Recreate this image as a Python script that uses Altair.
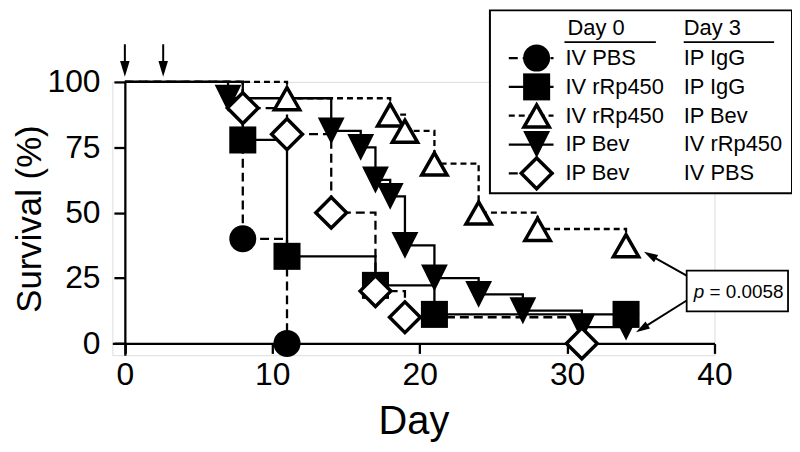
import math
import altair as alt
import pandas as pd

# ---------------- data ----------------
series_names = ["IV PBS / IP IgG", "IV rRp450 / IP IgG", "IV rRp450 / IP Bev",
                "IP Bev / IV rRp450", "IP Bev / IV PBS"]
day0_labels = ["IV PBS", "IV rRp450", "IV rRp450", "IP Bev", "IP Bev"]
day3_labels = ["IP IgG", "IP IgG", "IP Bev", "IV rRp450", "IV PBS"]
header_labels = ["Day 0", "Day 3"]

circle_days = [0, 8, 11]
circle_surv = [100, 40, 0]
square_days = [0, 8, 11, 17, 21, 34]
square_surv = [100, 77.8, 33.3, 22.2, 11.1, 11.1]
tri_up_days = [0, 11, 18, 19, 21, 24, 28, 34]
tri_up_surv = [100, 93.75, 87.5, 81.25, 68.75, 50, 43.75, 37.5]
tri_down_days = [0, 7, 14, 16, 17, 18, 19, 21, 24, 27, 31, 34]
tri_down_surv = [100, 93.75, 81.25, 75, 62.5, 56.25, 37.5, 25, 18.75, 12.5, 6.25, 6.25]
diamond_days = [0, 8, 11, 14, 17, 19, 31]
diamond_surv = [100, 90, 80, 50, 20, 10, 0]

x_ticks = [0, 10, 20, 30, 40]
y_ticks = [0, 25, 50, 75, 100]
dosing_days = [0, 2.6]
p_label = "p"
p_value_text = "= 0.0058"

all_days = [circle_days, square_days, tri_up_days, tri_down_days, diamond_days]
all_surv = [circle_surv, square_surv, tri_up_surv, tri_down_surv, diamond_surv]

# ---------------- styles ----------------
FONT = "Liberation Sans"
TRI_UP = "M0,-0.85 L1,0.9 L-1,0.9 Z"
TRI_DOWN = "M-1,-1 L1,-1 L0,1 Z"
styles = [
    dict(shape="circle", fill="black", sw=0, size=740, dash=[9, 5]),
    dict(shape="square", fill="black", sw=0, size=740, dash=None),
    dict(shape=TRI_UP, fill="white", sw=3.5, size=650, dash=[6, 4]),
    dict(shape=TRI_DOWN, fill="black", sw=0, size=729, dash=None),
    dict(shape="diamond", fill="white", sw=3.5, size=960, dash=[9, 5]),
]

W, H = 606, 275
xs = alt.Scale(domain=[-0.85, 40], nice=False, zero=False)
ys = alt.Scale(domain=[-4.5, 100], nice=False, zero=False)

x_axis = alt.Axis(values=x_ticks, title="Day", offset=-11.8, tickSize=10, tickWidth=2.3,
                  domainWidth=2.3, domainColor="black", tickColor="black",
                  labelFontSize=32, labelColor="black", labelFont=FONT, labelPadding=6,
                  titleFont=FONT, titleFontSize=40, titleColor="black",
                  titleFontWeight="normal", titlePadding=12, grid=False, format="d",
                  labelFlush=False)
y_axis = alt.Axis(values=y_ticks, title="Survival (%)", offset=-12.6, tickSize=11, tickWidth=2.3,
                  domainWidth=2.3, domainColor="black", tickColor="black",
                  labelFontSize=32, labelColor="black", labelFont=FONT, labelPadding=14,
                  titleFont=FONT, titleFontSize=35, titleColor="black",
                  titleFontWeight="normal", titlePadding=0, grid=False, format="d",
                  labelFlush=False)

layers = []
# step lines
for i, (d, s) in enumerate(zip(all_days, all_surv)):
    df = pd.DataFrame({"day": d, "surv": s, "series": series_names[i]})
    st = styles[i]
    kw = dict(interpolate="step-after", color="black", strokeWidth=2.3)
    if st["dash"]:
        kw["strokeDash"] = st["dash"]
    layers.append(alt.Chart(df).mark_line(**kw).encode(
        x=alt.X("day:Q", scale=xs, axis=x_axis),
        y=alt.Y("surv:Q", scale=ys, axis=y_axis)))

# markers
for i, (d, s) in enumerate(zip(all_days, all_surv)):
    df = pd.DataFrame({"day": d[1:], "surv": s[1:], "series": series_names[i]})
    st = styles[i]
    layers.append(alt.Chart(df).mark_point(
        shape=st["shape"], filled=True, fill=st["fill"], stroke="black",
        strokeWidth=st["sw"], size=st["size"], opacity=1, strokeJoin="miter").encode(
        x=alt.X("day:Q", scale=xs, axis=x_axis),
        y=alt.Y("surv:Q", scale=ys, axis=y_axis)))

# dosing arrows above the plot
dose_df = pd.DataFrame({"day": dosing_days, "top": 114.4, "bottom": 106.5, "head": 105.0})
layers.append(alt.Chart(dose_df).mark_rule(color="black", strokeWidth=2).encode(
    x=alt.X("day:Q", scale=xs, axis=x_axis),
    y=alt.Y("top:Q", scale=ys, axis=y_axis), y2="bottom:Q"))
layers.append(alt.Chart(dose_df).mark_point(
    shape="M-0.6,-1 L0.6,-1 L0,1 Z", filled=True, fill="black", strokeWidth=0,
    size=256, opacity=1).encode(
    x=alt.X("day:Q", scale=xs, axis=x_axis),
    y=alt.Y("head:Q", scale=ys, axis=y_axis)))

# ---------------- legend (pixel positions relative to plot area) ----------------
BOX = dict(x=380, x2=684, y=-72, y2=112)
layers.append(alt.Chart(pd.DataFrame({"a": [0]})).mark_rect(
    fill="white", stroke="black", strokeWidth=2).encode(
    x=alt.value(BOX["x"]), x2=alt.value(BOX["x2"]),
    y=alt.value(BOX["y"]), y2=alt.value(BOX["y2"])))

row_y = [-24, 5, 34, 63, 92]
col1_x, col2_x = 456, 575
text_df = pd.DataFrame({
    "px": [col1_x] * 5 + [col2_x] * 5 + [col1_x + 2, col2_x],
    "py": row_y + row_y + [-54, -54],
    "t": day0_labels + day3_labels + header_labels,
})
layers.append(alt.Chart(text_df).mark_text(
    align="left", baseline="middle", font=FONT, fontSize=22, color="black").encode(
    x=alt.X("px:Q", scale=None, axis=None), y=alt.Y("py:Q", scale=None, axis=None),
    text="t:N"))
# header underlines
ul_df = pd.DataFrame({"x1": [455, 575], "x2": [547, 666], "y": [-40, -40]})
layers.append(alt.Chart(ul_df).mark_rule(color="black", strokeWidth=1.8).encode(
    x=alt.X("x1:Q", scale=None, axis=None), x2="x2:Q",
    y=alt.Y("y:Q", scale=None, axis=None)))

for i in range(5):
    st = styles[i]
    kw = dict(color="black", strokeWidth=2.3)
    if st["dash"]:
        kw["strokeDash"] = st["dash"]
    layers.append(alt.Chart(pd.DataFrame({"a": [0]})).mark_rule(**kw).encode(
        x=alt.value(399), x2=alt.value(444), y=alt.value(row_y[i])))
    layers.append(alt.Chart(pd.DataFrame({"a": [0]})).mark_point(
        shape=st["shape"], filled=True, fill=st["fill"], stroke="black",
        strokeWidth=st["sw"], size=st["size"], opacity=1, strokeJoin="miter").encode(
        x=alt.value(427), y=alt.value(row_y[i])))

# ---------------- p-value box and arrows ----------------
layers.append(alt.Chart(pd.DataFrame({"a": [0]})).mark_rect(
    fill="white", stroke="black", strokeWidth=1.8).encode(
    x=alt.value(578), x2=alt.value(680), y=alt.value(190), y2=alt.value(231)))
layers.append(alt.Chart(pd.DataFrame({"a": [0]})).mark_text(
    align="left", baseline="middle", font=FONT, fontSize=19, fontStyle="italic",
    color="black", text=p_label).encode(x=alt.value(585), y=alt.value(211)))
layers.append(alt.Chart(pd.DataFrame({"a": [0]})).mark_text(
    align="left", baseline="middle", font=FONT, fontSize=19, color="black",
    text=p_value_text).encode(x=alt.value(601), y=alt.value(211)))

arrows = [((578, 195), (535, 171)), ((578, 220), (527, 252))]
for (sx, sy), (tx, ty) in arrows:
    dx, dy = tx - sx, ty - sy
    n = math.hypot(dx, dy)
    ux, uy = dx / n, dy / n
    hl = 14
    cx, cy = tx - ux * hl / 2, ty - uy * hl / 2
    ang = math.degrees(math.atan2(ux, -uy)) % 360
    layers.append(alt.Chart(pd.DataFrame({"a": [0]})).mark_rule(
        color="black", strokeWidth=2).encode(
        x=alt.value(sx), y=alt.value(sy), x2=alt.value(cx), y2=alt.value(cy)))
    layers.append(alt.Chart(pd.DataFrame({"a": [0]})).mark_point(
        shape="M0,-1 L0.6,1 L-0.6,1 Z", filled=True, fill="black", strokeWidth=0,
        size=hl * hl, opacity=1, angle=ang).encode(x=alt.value(cx), y=alt.value(cy)))

chart = alt.layer(*layers).properties(
    width=W, height=H,
    padding={"left": 105, "top": 73, "right": 78, "bottom": 88},
    autosize=alt.AutoSizeParams(type="none"),
).configure_view(stroke=None).configure(background="white")

chart.save("out.html", embed_options={"renderer": "svg", "actions": False})
